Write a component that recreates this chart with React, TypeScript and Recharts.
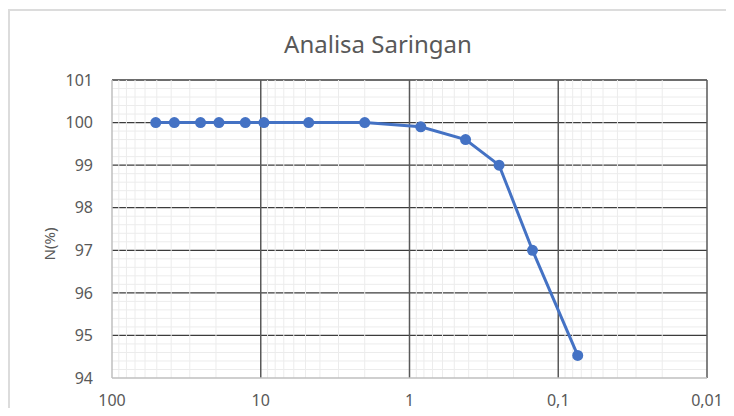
import React from "react"
import {
  LineChart,
  Line,
  XAxis,
  YAxis,
  ReferenceLine,
} from "recharts"

// sieve opening (mm) and percent passing
const sieveSizes = [50.8, 38.1, 25.4, 19.1, 12.7, 9.52, 4.76, 2.0, 0.84, 0.42, 0.25, 0.149, 0.074]
const passing = [100, 100, 100, 100, 100, 100, 100, 100, 99.9, 99.6, 99.0, 97.0, 94.53]

const xTicks = [100, 10, 1, 0.1, 0.01]
const yTicks = [94, 95, 96, 97, 98, 99, 100, 101]

const data = sieveSizes.map((x, i) => ({ x, y: passing[i] }))

// gridlines
const minorX: number[] = []
for (const d of [10, 1, 0.1, 0.01]) {
  for (let k = 2; k <= 9; k++) minorX.push(+(k * d).toPrecision(3))
}
const minorY: number[] = []
for (let v = 94; v < 101; v++) {
  for (let k = 1; k <= 4; k++) minorY.push(+(v + k * 0.2).toFixed(1))
}
const majorY = [95, 96, 97, 98, 99, 100, 101]
const majorX = [10, 1, 0.1, 0.01]

const FONT = "'Noto Sans', sans-serif"
const TEXT = "#595959"

export default function App() {
  return (
    <div
      style={{
        position: "relative",
        width: 718,
        height: 408,
        marginBottom: -8,
        overflow: "hidden",
        fontFamily: FONT,
      }}
    >
      <div
        style={{
          position: "absolute",
          left: 0,
          top: 1,
          width: 800,
          height: 500,
          borderTop: "2px solid #dcdcdc",
          borderLeft: "2px solid #dcdcdc",
        }}
      />
      <div
        style={{
          position: "absolute",
          left: 0,
          top: 24,
          width: 740,
          textAlign: "center",
          fontSize: 24,
          lineHeight: 1,
          color: TEXT,
        }}
      >
        Analisa Saringan
      </div>
      <div
        style={{
          position: "absolute",
          left: 1,
          top: 226,
          width: 80,
          height: 20,
          lineHeight: "20px",
          textAlign: "center",
          fontSize: 15,
          color: TEXT,
          transform: "rotate(-90deg)",
        }}
      >
        N(%)
      </div>
      <div style={{ position: "absolute", left: 0, top: 0 }}>
        <LineChart width={718} height={408} data={data} margin={{ top: 72, right: 19, bottom: 16, left: 0 }}>
          {minorY.map((v) => (
            <ReferenceLine key={"my" + v} y={v} stroke="#ececec" strokeWidth={1} zIndex={-60} />
          ))}
          {majorY.map((v) => (
            <ReferenceLine key={"My" + v} y={v} stroke="#3c3c3c" strokeWidth={1.3} zIndex={-60} />
          ))}
          {minorX.map((v) => (
            <ReferenceLine key={"mx" + v} x={v} stroke="#ececec" strokeWidth={1} zIndex={-60} />
          ))}
          {majorX.map((v) => (
            <ReferenceLine key={"Mx" + v} x={v} stroke="#595959" strokeWidth={1.5} zIndex={-60} />
          ))}
          <XAxis
            dataKey="x"
            type="number"
            scale="log"
            domain={[0.01, 100]}
            reversed
            allowDataOverflow
            ticks={xTicks}
            interval={0}
            tickFormatter={(v: number) => String(v).replace(".", ",")}
            tickLine={false}
            tickSize={0}
            tickMargin={17}
            height={22}
            stroke="#bfbfbf"
            strokeWidth={1.5}
            tick={{ fill: TEXT, fontSize: 16, fontFamily: FONT }}
          />
          <YAxis
            type="number"
            domain={[94, 101]}
            ticks={yTicks}
            interval={0}
            tickLine={false}
            tickSize={0}
            tickMargin={19}
            width={104}
            stroke="#bfbfbf"
            strokeWidth={1.5}
            tick={{ fill: TEXT, fontSize: 16, fontFamily: FONT }}
          />
          <Line
            dataKey="y"
            type="linear"
            stroke="#4472C4"
            strokeWidth={3}
            dot={{ r: 5.5, fill: "#4472C4", stroke: "none" }}
            isAnimationActive={false}
          />
        </LineChart>
      </div>
    </div>
  )
}
